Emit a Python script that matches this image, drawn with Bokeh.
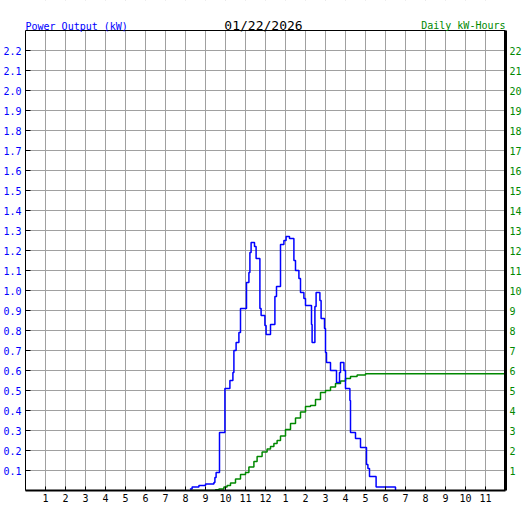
from bokeh.plotting import figure
from bokeh.models import Range1d, LinearAxis, FixedTicker, Label, Grid, CustomJSTickFormatter
from bokeh.embed import file_html
from bokeh.resources import INLINE

# ---- data ----
hour_ticks = list(range(1, 24))
kw_ticks = [round(0.1 * i, 1) for i in range(1, 23)]
kwh_ticks = list(range(1, 23))
date_label = "01/22/2026"

# power output (kW), hour of day of each change
power_t = [8.22, 8.33, 8.67, 9.0, 9.42, 9.47, 9.53, 9.7, 9.97, 10.22, 10.37, 10.42,
           10.53, 10.67, 10.75, 11.05, 11.17, 11.22, 11.28, 11.45, 11.53, 11.72, 11.78,
           11.97, 12.03, 12.25, 12.47, 12.55, 12.75, 12.92, 13.03, 13.2, 13.42, 13.5,
           13.67, 13.75, 13.92, 14.0, 14.3, 14.33, 14.47, 14.53, 14.72, 14.78, 14.95,
           15.0, 15.05, 15.25, 15.55, 15.7, 15.75, 15.92, 16.0, 16.22, 16.25, 16.5,
           16.75, 17.05, 17.12, 17.2, 17.53, 18.5]
power_kw = [0.008, 0.017, 0.025, 0.033, 0.04, 0.065, 0.09, 0.29, 0.51, 0.55, 0.59, 0.70,
            0.74, 0.79, 0.91, 1.04, 1.09, 1.19, 1.24, 1.22, 1.16, 0.91, 0.875,
            0.825, 0.78, 0.83, 0.97, 1.02, 1.23, 1.25, 1.27, 1.26, 1.15, 1.10,
            1.06, 0.99, 0.96, 0.925, 0.83, 0.74, 0.92, 0.99, 0.95, 0.86, 0.81,
            0.69, 0.64, 0.60, 0.54, 0.59, 0.64, 0.60, 0.51, 0.45, 0.29, 0.26,
            0.215, 0.13, 0.11, 0.07, 0.017, 0.0]

# cumulative energy (kWh)
energy_t = [8.25, 9.5, 9.67, 9.92, 10.08, 10.25, 10.5, 10.75, 11.0, 11.17, 11.42, 11.58,
            11.83, 12.08, 12.25, 12.42, 12.58, 12.75, 13.0, 13.25, 13.5, 13.75, 14.0,
            14.25, 14.5, 14.75, 15.0, 15.25, 15.5, 15.75, 16.0, 16.25, 16.58, 17.0, 24.0]
energy_kwh = [0.0, 0.04, 0.08, 0.17, 0.25, 0.37, 0.58, 0.8, 0.9, 1.17, 1.45, 1.7,
              1.92, 2.08, 2.2, 2.35, 2.5, 2.72, 3.05, 3.35, 3.62, 3.92, 4.2,
              4.25, 4.55, 4.9, 5.0, 5.17, 5.35, 5.48, 5.6, 5.7, 5.78, 5.84, 5.84]

BLUE = "#0000ff"
GREEN = "#008800"
FONT = "DejaVu Sans Mono"

KW_TOP = 2.3      # top of the chart frame
KW_MAX = 2.45     # frame plus header band
X_MAX = 24

p = figure(width=527, height=510, x_range=Range1d(0, X_MAX), y_range=Range1d(0, KW_MAX),
           output_backend="svg", toolbar_location=None,
           x_axis_location=None, y_axis_location=None,
           min_border_left=25, min_border_right=22, min_border_top=0, min_border_bottom=20)
p.extra_y_ranges = {"kwh": Range1d(0, KW_MAX * 10)}
p.background_fill_color = "white"
p.border_fill_color = "white"
p.outline_line_color = None

p.add_layout(Grid(dimension=0, ticker=FixedTicker(ticks=list(range(0, 25))),
                  grid_line_color="#a0a0a0", grid_line_width=1))
p.add_layout(Grid(dimension=1, ticker=FixedTicker(ticks=kw_ticks),
                  grid_line_color="#a0a0a0", grid_line_width=1))

# header band above the frame (hides grid there) and frame box
p.quad(left=[0], right=[X_MAX], bottom=[KW_TOP], top=[KW_MAX],
       fill_color="white", line_color=None)
p.quad(left=[0], right=[X_MAX], bottom=[0], top=[KW_TOP],
       fill_color=None, line_color="black", line_width=1)

xaxis = LinearAxis(ticker=FixedTicker(ticks=hour_ticks),
                   formatter=CustomJSTickFormatter(code="return String(tick > 12 ? tick - 12 : tick)"),
                   major_tick_in=4, major_tick_out=0, minor_tick_line_color=None,
                   axis_line_width=2, axis_line_color="black", major_tick_line_color="black",
                   major_label_text_font=FONT, major_label_text_font_size="10px",
                   major_label_text_color="black", major_label_standoff=3)
p.add_layout(xaxis, "below")

yaxis = LinearAxis(ticker=FixedTicker(ticks=kw_ticks), bounds=(0, KW_TOP),
                   formatter=CustomJSTickFormatter(code="return tick.toFixed(1)"),
                   major_tick_in=5, major_tick_out=0, minor_tick_line_color=None,
                   axis_line_width=1, axis_line_color="black", major_tick_line_color="black",
                   major_label_text_font=FONT, major_label_text_font_size="10px",
                   major_label_text_color=BLUE, major_label_standoff=4)
p.add_layout(yaxis, "left")

y2 = LinearAxis(y_range_name="kwh", ticker=FixedTicker(ticks=kwh_ticks), bounds=(0, KW_TOP * 10),
                major_tick_in=0, major_tick_out=0, minor_tick_line_color=None,
                axis_line_width=3, axis_line_color="black",
                major_label_text_font=FONT, major_label_text_font_size="10px",
                major_label_text_color=GREEN, major_label_standoff=4)
p.add_layout(y2, "right")

p.step(energy_t, energy_kwh, mode="after", y_range_name="kwh", line_color=GREEN, line_width=1.5)
p.step(power_t, power_kw, mode="after", line_color=BLUE, line_width=1.5)

p.add_layout(Label(x=0, y=KW_TOP, y_offset=4, text="Power Output (kW)", text_align="left",
                   text_baseline="alphabetic", text_font=FONT, text_font_size="10px",
                   text_color=BLUE))
p.add_layout(Label(x=11.9, y=KW_TOP, y_offset=5, text=date_label, text_align="center",
                   text_baseline="alphabetic", text_font=FONT, text_font_size="13px",
                   text_color="black"))
p.add_layout(Label(x=X_MAX, y=KW_TOP, y_offset=5, text="Daily kW-Hours", text_align="right",
                   text_baseline="alphabetic", text_font=FONT, text_font_size="10px",
                   text_color=GREEN))

open("out.html", "w").write(file_html(p, INLINE))
